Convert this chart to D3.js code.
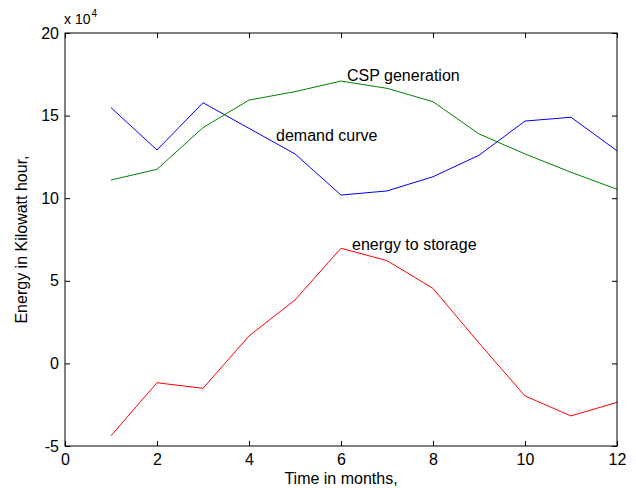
<!DOCTYPE html>
<html><head><meta charset="utf-8">
<script src="https://cdn.jsdelivr.net/npm/d3@7/dist/d3.min.js"></script>
<style>body{margin:0;background:#fff}svg{display:block}text{font-family:"Liberation Sans",Arial,sans-serif;fill:#000}</style>
</head><body><svg id="c" width="636" height="488"></svg>
<script>
const months = [1,2,3,4,5,6,7,8,9,10,11,12];
const demand = [15.48,12.92,15.78,14.23,12.68,10.19,10.44,11.3,12.6,14.67,14.9,12.87];
const csp = [11.1,11.75,14.27,15.94,16.45,17.09,16.65,15.84,13.89,12.68,11.57,10.54];
const storage = [-4.38,-1.17,-1.51,1.66,3.84,6.97,6.22,4.54,1.23,-1.97,-3.18,-2.36];
const xTicks = [0,2,4,6,8,10,12];
const yTicks = [-5,0,5,10,15,20];

const svg = d3.select("#c");
const L=65,R=617,T=33,B=446;
const x = d3.scaleLinear().domain([0,12]).range([L,R]);
const y = d3.scaleLinear().domain([-5,20]).range([B,T]);

const line = d3.line().x((d,i)=>x(months[i])).y(d=>y(d));
[[demand,"#0000ff"],[csp,"#008000"],[storage,"#ff0000"]].forEach(([s,c])=>{
  svg.append("path").attr("d",line(s)).attr("fill","none").attr("stroke",c).attr("stroke-width",1);
});

const fs = "16px";
const fmt = d => String(d);
const gB = svg.append("g").attr("transform",`translate(0,${B})`)
  .call(d3.axisBottom(x).tickValues(xTicks).tickFormat(fmt).tickSizeInner(-5).tickSizeOuter(0).tickPadding(8));
const gT = svg.append("g").attr("transform",`translate(0,${T})`)
  .call(d3.axisTop(x).tickValues(xTicks).tickSizeInner(-5).tickSizeOuter(0).tickFormat(""));
const gL = svg.append("g").attr("transform",`translate(${L},0)`)
  .call(d3.axisLeft(y).tickValues(yTicks).tickFormat(fmt).tickSizeInner(-5).tickSizeOuter(0).tickPadding(6));
const gR = svg.append("g").attr("transform",`translate(${R},0)`)
  .call(d3.axisRight(y).tickValues(yTicks).tickSizeInner(-5).tickSizeOuter(0).tickFormat(""));
[gB,gT,gL,gR].forEach(g=>{
  g.select(".domain").remove();
  g.selectAll("line").attr("stroke","#000");
  g.selectAll("text").style("font-size",fs).style("font-family","'Liberation Sans',Arial,sans-serif").attr("fill","#000");
});
svg.append("rect").attr("x",L).attr("y",T).attr("width",R-L).attr("height",B-T)
  .attr("fill","none").attr("stroke","#000").attr("stroke-width",1);

const ex = svg.append("text").attr("x",64).attr("y",24).style("font-size","14px");
ex.append("tspan").text("x 10");
ex.append("tspan").attr("dy",-7).attr("dx",1).style("font-size","10px").text("4");

svg.append("text").attr("x",x(6)).attr("y",484).attr("text-anchor","middle").style("font-size",fs).text("Time in months,");
svg.append("text").attr("transform",`translate(27,${(T+B)/2}) rotate(-90)`).attr("text-anchor","middle").style("font-size",fs).text("Energy in Kilowatt hour,");

svg.append("text").attr("x",347).attr("y",81).style("font-size",fs).text("CSP generation");
svg.append("text").attr("x",276).attr("y",141).style("font-size",fs).text("demand curve");
svg.append("text").attr("x",352).attr("y",250).style("font-size",fs).text("energy to storage");
</script></body></html>
